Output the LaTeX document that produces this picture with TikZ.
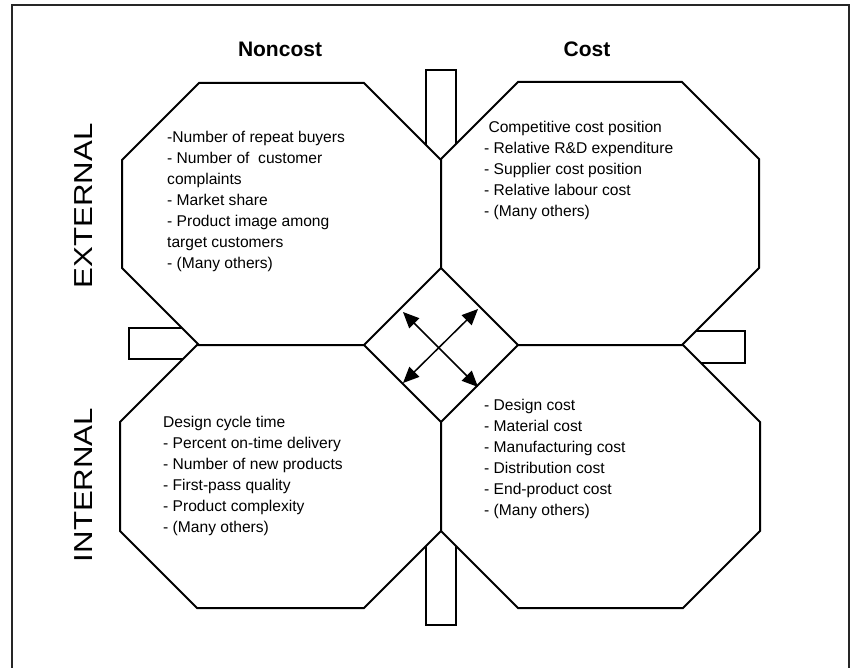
\documentclass[tikz,border=0pt]{standalone}
\usepackage{fontspec}
\setmainfont{Liberation Sans}
\usetikzlibrary{arrows.meta}

\tikzset{
  frameline/.style={line width=2pt, draw=black!85},
  tabbox/.style={line width=2pt, draw=black, fill=white},
  octa/.style={line width=2pt, draw=black, fill=white, line join=miter},
  metric/.style={anchor=north west, inner sep=0pt, align=left,
    font=\fontsize{15.6}{21}\selectfont},
  heading/.style={anchor=base, inner sep=0pt, font=\fontsize{21}{25}\selectfont\bfseries},
  sidelabel/.style={anchor=base, inner sep=0pt, rotate=90,
    font=\fontsize{26}{30}\selectfont},
  linkarrow/.style={line width=1.5pt, {Triangle[length=16pt,width=14pt]}-{Triangle[length=16pt,width=14pt]}}
}

% octagon with corner cut 77: x1, x2, y1, y2
\newcommand{\octpath}[4]{%
  (#1+77,#3) -- (#2-77,#3) -- (#2,#3+77) -- (#2,#4-77) --
  (#2-77,#4) -- (#1+77,#4) -- (#1,#4-77) -- (#1,#3+77) -- cycle}
% side labels are set slightly stretched along the line of text
\newcommand{\stretchlabel}[1]{\scalebox{1.2}[1]{#1}}

\begin{document}
\begin{tikzpicture}[x=1pt, y=-1pt]
  \useasboundingbox (0,0) rectangle (851,668);

  % outer frame
  \draw[frameline] (12,668) -- (12,5) -- (849,5) -- (849,668);

  % tabs sticking out between the quadrants
  \draw[tabbox] (426,70) rectangle (456,220);
  \draw[tabbox] (426,480) rectangle (456,625);
  \draw[tabbox] (129,328) rectangle (260,359);
  \draw[tabbox] (620,331) rectangle (745,363);

  % the four quadrants
  \draw[octa] \octpath{122}{441}{83}{345};
  \draw[octa] \octpath{441}{759}{82}{345};
  \draw[octa] \octpath{120}{441}{345}{608};
  \draw[octa] \octpath{441}{760}{345}{608};

  % column headings
  \node[heading] (noncost) at (280,57) {Noncost};
  \node[heading] (cost) at (587,57) {Cost};

  % row labels
  \node[sidelabel] (external) at (92,206) {\stretchlabel{EXTERNAL}};
  \node[sidelabel] (internal) at (92,485) {\stretchlabel{INTERNAL}};

  % quadrant contents
  \node[metric] (extnoncost) at (167,131) {-Number of repeat buyers\\
    - Number of \ customer\\complaints\\- Market share\\
    - Product image among\\target customers\\- (Many others)};
  \node[metric] (extcost) at (484,121) {\ Competitive cost position\\
    - Relative R\&D expenditure\\- Supplier cost position\\
    - Relative labour cost\\- (Many others)};
  \node[metric] (intnoncost) at (163,416) {Design cycle time\\
    - Percent on-time delivery\\- Number of new products\\
    - First-pass quality\\- Product complexity\\- (Many others)};
  \node[metric] (intcost) at (484,399) {- Design cost\\- Material cost\\
    - Manufacturing cost\\- Distribution cost\\- End-product cost\\
    - (Many others)};

  % two-way links in the centre
  \coordinate (ul) at (403,312);
  \coordinate (lr) at (478,387);
  \coordinate (ll) at (403,383);
  \coordinate (ur) at (478,309);
  \draw[linkarrow] (ul) -- (lr);
  \draw[linkarrow] (ll) -- (ur);
\end{tikzpicture}
\end{document}
